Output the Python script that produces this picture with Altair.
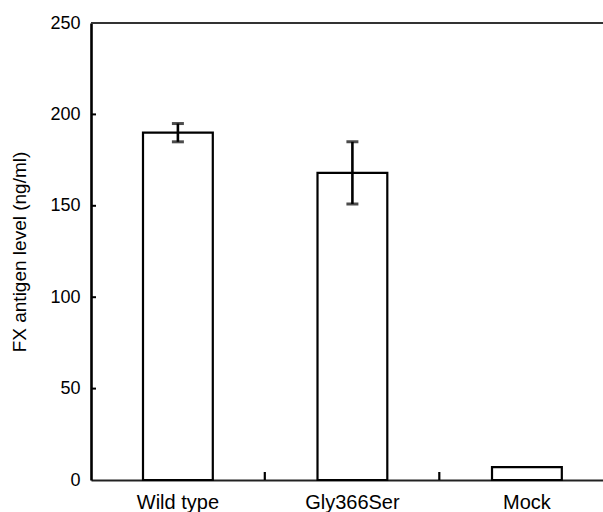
import altair as alt
import pandas as pd

categories = ["Wild type", "Gly366Ser", "Mock"]
means = [190, 168, 7]
errors = [5, 17, 0]
y_ticks = [0, 50, 100, 150, 200, 250]
inner_ticks = [50, 100, 150, 200]

df = pd.DataFrame({"cat": categories, "mean": means, "err": errors})
df["lo"] = df["mean"] - df["err"]
df["hi"] = df["mean"] + df["err"]
tick_df = pd.DataFrame({"v": inner_ticks})
sep_df = pd.DataFrame({"cat": categories[:2]})

FONT = "Liberation Sans"
W, H = 512, 457

xscale = alt.Scale(domain=categories, paddingInner=0.6, paddingOuter=0.267, align=0.558)
yscale = alt.Scale(domain=[0, 250], nice=False)

base = alt.Chart(df)

bars = base.mark_bar(fill="white", stroke="black", strokeWidth=2.2).encode(
    x=alt.X("cat:N", scale=xscale, sort=categories, title=None,
            axis=alt.Axis(labelAngle=0, labelFont=FONT, labelFontSize=20, labelColor="black",
                          labelPadding=12, tickSize=0, domainColor="#222", domainWidth=2.2)),
    y=alt.Y("mean:Q", scale=yscale, title="FX antigen level (ng/ml)",
            axis=alt.Axis(values=y_ticks, labelFont=FONT, labelFontSize=18, labelColor="black",
                          labelPadding=11, tickSize=0, domainColor="black", domainWidth=2.6,
                          grid=False, titleFont=FONT, titleFontSize=19, titleFontWeight="normal",
                          titleColor="black", titlePadding=20)),
)

err_df_filter = alt.datum.err > 0
stems = base.transform_filter(err_df_filter).mark_rule(color="black", strokeWidth=2.6).encode(
    x=alt.X("cat:N", scale=xscale, sort=categories),
    y="lo:Q", y2="hi:Q",
)
caps_hi = base.transform_filter(err_df_filter).mark_tick(color="black", size=12, thickness=3).encode(
    x=alt.X("cat:N", scale=xscale, sort=categories),
    y="hi:Q",
)
caps_lo = base.transform_filter(err_df_filter).mark_tick(color="black", size=12, thickness=3).encode(
    x=alt.X("cat:N", scale=xscale, sort=categories),
    y="lo:Q",
)

ytick_marks = alt.Chart(tick_df).mark_rule(color="black", strokeWidth=2).encode(
    y=alt.Y("v:Q", scale=yscale),
    x=alt.value(0), x2=alt.value(5),
)

sep_marks = alt.Chart(sep_df).mark_rule(color="black", strokeWidth=2.2, xOffset=52).encode(
    x=alt.X("cat:N", scale=xscale, sort=categories, bandPosition=1),
    y=alt.value(H - 8), y2=alt.value(H),
)

top_line = alt.Chart(df).mark_rule(color="#333", strokeWidth=1.8).encode(
    x=alt.value(0), x2=alt.value(W), y=alt.value(0),
)

chart = alt.layer(bars, stems, caps_hi, caps_lo, ytick_marks, sep_marks, top_line).properties(
    width=W, height=H,
    autosize=alt.AutoSizeParams(type="none"),
    padding={"left": 91, "top": 23, "right": 0, "bottom": 32},
).configure_view(stroke=None).configure(background="white")

chart.save("out.html", embed_options={"renderer": "svg", "actions": False})
